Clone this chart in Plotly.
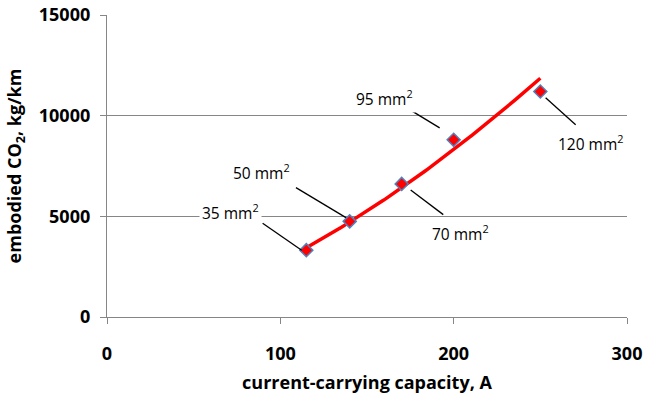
import numpy as np
import plotly.graph_objects as go

# data
capacity_A = [115, 140, 170, 200, 250]
co2_kg_per_km = [3320, 4750, 6610, 8800, 11200]
labels = ["35 mm<sup>2</sup>", "50 mm<sup>2</sup>", "70 mm<sup>2</sup>",
          "95 mm<sup>2</sup>", "120 mm<sup>2</sup>"]
x_ticks = [0, 100, 200, 300]
y_ticks = [0, 5000, 10000, 15000]
y_tick_text = ["0", "5000", "10000", "15000"]

# power trendline (as in the spreadsheet chart)
b, lna = np.polyfit(np.log(capacity_A), np.log(co2_kg_per_km), 1)
tx = np.linspace(min(capacity_A), max(capacity_A), 80)
ty = np.exp(lna) * tx ** b

FONT = "Open Sans"
GRID = "#868686"

fig = go.Figure()
fig.add_trace(go.Scatter(x=tx, y=ty, mode="lines",
                         line=dict(color="#FF0000", width=3.5),
                         hoverinfo="skip", showlegend=False))
fig.add_trace(go.Scatter(x=capacity_A, y=co2_kg_per_km, mode="markers",
                         marker=dict(symbol="diamond", size=10, color="#FF0000",
                                     line=dict(color="#4F81BD", width=1.5)),
                         showlegend=False))

# label placement, in screen pixels relative to each point (y down)
text_off = [(-76, -38), (-88, -49), (59, 49), (-69, -42), (51, 51)]
lead_from = [(-4.7, 0), (-3.7, -3.7), (9, 6), (-14, -12), (5.3, 6.3)]
lead_to = [(-43.7, -27), (-53.7, -33.7), (41.6, 30.7), (-42, -29), (35.3, 33.3)]

for i in range(len(capacity_A)):
    fig.add_shape(type="line", xref="x", yref="y",
                  xsizemode="pixel", ysizemode="pixel",
                  xanchor=capacity_A[i], yanchor=co2_kg_per_km[i],
                  x0=lead_from[i][0], y0=-lead_from[i][1],
                  x1=lead_to[i][0], y1=-lead_to[i][1],
                  line=dict(color="black", width=1.3), layer="above")
    fig.add_annotation(x=capacity_A[i], y=co2_kg_per_km[i], text=labels[i],
                       showarrow=False, xshift=text_off[i][0], yshift=-text_off[i][1],
                       bgcolor="white", borderpad=2,
                       font=dict(family=FONT, size=15.5, color="black"))

fig.update_layout(
    width=647, height=399,
    margin=dict(l=107, r=20, t=15, b=82),
    paper_bgcolor="white", plot_bgcolor="white",
    font=dict(family=FONT, color="black"),
)
fig.update_xaxes(range=[0, 300], tickvals=x_ticks, automargin=False,
                 showgrid=False, zeroline=False,
                 showline=True, linecolor=GRID, linewidth=1.3,
                 ticks="outside", ticklen=6, tickcolor=GRID, tickwidth=1.3,
                 ticklabelstandoff=14,
                 tickfont=dict(family=FONT, size=18, weight="bold"),
                 title=dict(text="current-carrying capacity, A",
                            font=dict(family=FONT, size=18, weight="bold"),
                            standoff=12))
fig.update_yaxes(range=[0, 15000], tickvals=y_ticks, ticktext=y_tick_text,
                 automargin=False,
                 showgrid=True, gridcolor=GRID, gridwidth=1.3, zeroline=False,
                 showline=True, linecolor=GRID, linewidth=1.3,
                 ticks="outside", ticklen=6, tickcolor=GRID, tickwidth=1.3,
                 ticklabelstandoff=6,
                 tickfont=dict(family=FONT, size=18, weight="bold"),
                 title=dict(text="embodied CO<sub>2</sub>, kg/km",
                            font=dict(family=FONT, size=18, weight="bold"),
                            standoff=12))

fig.write_html("out.html")
